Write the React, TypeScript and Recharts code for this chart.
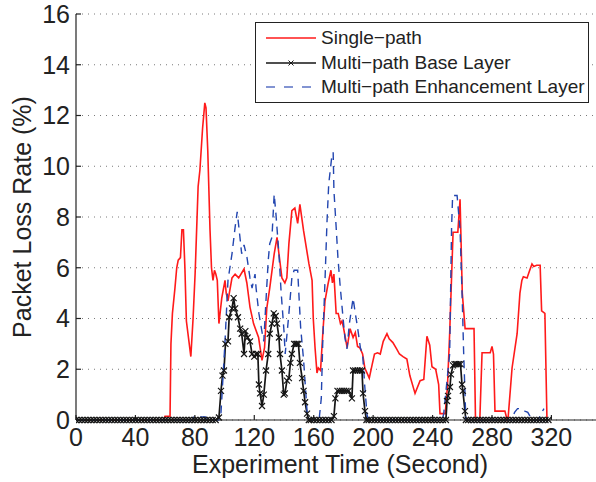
import React from 'react'
import { LineChart, Line, XAxis, YAxis, CartesianGrid } from 'recharts'

const FONT = '"Liberation Sans", Arial, Helvetica, sans-serif'
const INK = '#222'

const xTicks = [0, 40, 80, 120, 160, 200, 240, 280, 320]
const yTicks = [0, 2, 4, 6, 8, 10, 12, 14, 16]

// [time (s), loss rate (%)]
const singlePath: [number, number][] = [
  [0, 0], [58.9, 0], [59.9, 0.15], [63.3, 0.15], [63.9, 3.0], [64.9, 4.2], [66.6, 5.2], [67.8, 6.0],
  [68.8, 6.3], [70.3, 6.4], [71.3, 7.5], [72.3, 7.5], [73.3, 6.0], [74.3, 3.9], [77.3, 2.5], [78.8, 4.0],
  [80.2, 5.8], [82.2, 9.2], [83.4, 9.85], [85.2, 11.5], [86.7, 12.5], [87.5, 12.3], [88.7, 10.6], [90.2, 7.5],
  [91.2, 6.0], [92.2, 5.5], [93.2, 5.9], [94.1, 5.75], [95.1, 5.5], [96.2, 3.8], [98.1, 4.8], [100.3, 5.5],
  [101.1, 5.0], [102.3, 4.7], [105.0, 5.6], [107.1, 5.75], [109.5, 5.6], [113.1, 5.95], [115.0, 5.4],
  [117.1, 4.45], [119.5, 3.8], [122.9, 3.25], [125.2, 2.35], [126.9, 2.85], [128.4, 4.4], [130.4, 5.2],
  [133.4, 6.55], [135.3, 7.2], [136.6, 6.55], [138.6, 5.6], [140.6, 5.4], [141.9, 5.6], [143.3, 6.95],
  [145.3, 8.25], [147.3, 8.35], [149.2, 7.75], [150.7, 8.5], [153.2, 7.45], [156.8, 6.15], [158.9, 5.5],
  [159.7, 4.0], [160.9, 2.85], [162.2, 1.85], [163.1, 2.05], [164.6, 1.95], [166.1, 3.4], [167.6, 4.7],
  [169.6, 5.35], [171.6, 5.9], [172.6, 5.4], [173.6, 5.75], [175.1, 4.2], [176.5, 4.2], [178.0, 3.8],
  [179.0, 3.9], [180.0, 3.65], [182.5, 2.85], [184.5, 3.6], [186.5, 3.25], [188.0, 3.45], [189.5, 2.9],
  [191.0, 2.85], [192.9, 2.6], [194.4, 2.05], [197.4, 1.65], [199.4, 2.2], [200.9, 2.6], [202.9, 2.65],
  [204.8, 2.6], [206.8, 3.1], [209.3, 3.4], [210.8, 3.2], [213.3, 3.05], [215.8, 2.8], [217.7, 2.6],
  [220.1, 2.5], [222.7, 2.4], [224.7, 1.75], [228.2, 1.05], [231.6, 1.55], [234.1, 1.6], [236.2, 3.3],
  [238.1, 2.95], [239.6, 2.1], [242.1, 2.0], [244.1, 1.4], [245.0, 0.25], [248.5, 0.25], [250.0, 1.3],
  [251.5, 3.4], [253.0, 6.0], [253.8, 7.4], [257.0, 7.4], [258.5, 8.7], [260.0, 5.0], [261.9, 3.6],
  [267.9, 3.6], [268.9, 0], [271.8, 0], [273.3, 2.65], [278.8, 2.65], [280.0, 2.9], [281.0, 2.6],
  [282.0, 0.35], [288.7, 0.35], [290.2, 0], [290.8, 0.05], [293.5, 2.05], [296.9, 3.4], [298.8, 5.0],
  [300.1, 5.5], [301.1, 5.65], [303.6, 5.6], [305.1, 5.85], [306.9, 6.15], [308.1, 6.05], [310.1, 6.1],
  [312.4, 6.1], [313.4, 4.3], [315.6, 4.2], [317.0, 0],
]

const baseLayer: [number, number][] = [
  [0, 0], [2, 0], [4, 0], [6, 0], [8, 0], [10, 0], [12, 0], [14, 0], [16, 0], [18, 0], [20, 0], [22, 0],
  [24, 0], [26, 0], [28, 0], [30, 0], [32, 0], [34, 0], [36, 0], [38, 0], [40, 0], [42, 0], [44, 0],
  [46, 0], [48, 0], [50, 0], [52, 0], [54, 0], [56, 0], [58, 0], [60, 0], [62, 0], [64, 0], [66, 0],
  [68, 0], [70, 0], [72, 0], [74, 0], [76, 0], [78, 0], [80, 0], [82, 0], [84, 0], [86, 0], [88, 0],
  [90, 0], [92, 0], [94, 0],
  [96.2, 0.1], [97.6, 1.15], [98.6, 1.75], [99.6, 1.95], [100.6, 3.0], [102.3, 3.1], [103.1, 4.05],
  [105.0, 4.4], [106.1, 4.8], [107.1, 4.4], [109.0, 4.05], [110.5, 3.6], [111.5, 3.4], [113.1, 2.6],
  [114.0, 3.5], [115.5, 3.25], [117.1, 3.1], [118.5, 2.6], [120.0, 2.5], [121.2, 2.6], [122.4, 2.6],
  [123.1, 1.4], [123.9, 1.05], [125.2, 0.55], [126.4, 1.0], [127.9, 1.95], [129.4, 2.6], [130.4, 3.4],
  [131.9, 3.8], [133.1, 4.2], [134.4, 4.1], [135.3, 3.8], [136.6, 3.25], [137.3, 2.6], [138.6, 1.95],
  [139.8, 1.0], [140.6, 1.05], [142.0, 1.55], [143.3, 1.65], [144.3, 2.25], [145.3, 2.6], [146.8, 3.0],
  [147.8, 3.0], [148.7, 3.0], [149.7, 3.0], [150.7, 2.25], [152.2, 1.65], [153.2, 1.15], [154.2, 0.7],
  [155.5, 0.25], [156.7, 0],
  [158, 0], [160, 0], [162, 0], [164, 0], [166, 0], [168, 0], [170, 0], [172, 0],
  [173.6, 0.15], [174.6, 0.85], [176.0, 1.15], [177.5, 1.15], [179.0, 1.15], [180.5, 1.15], [182.0, 1.15],
  [183.5, 1.15], [185.7, 0.85], [186.5, 1.95], [188.0, 1.95], [189.5, 1.95], [191.0, 1.95], [192.5, 1.95],
  [193.2, 1.05], [194.5, 0.35], [195.5, 0],
  [197, 0], [199, 0], [201, 0], [203, 0], [205, 0], [207, 0], [209, 0], [211, 0], [213, 0], [215, 0],
  [217, 0], [219, 0], [221, 0], [223, 0], [225, 0], [227, 0], [229, 0], [231, 0], [233, 0], [235, 0],
  [237, 0], [239, 0], [241, 0], [243, 0], [245, 0], [247, 0], [249, 0],
  [249.7, 0.75], [250.4, 0.95], [251.7, 1.3], [252.4, 1.8], [253.8, 2.15], [254.8, 2.2], [255.8, 2.2],
  [256.8, 2.2], [257.8, 2.2], [258.8, 2.2], [259.8, 1.4], [260.4, 1.15], [261.8, 0.35], [262.4, 0],
  [264, 0], [266, 0], [268, 0], [270, 0], [272, 0], [274, 0], [276, 0], [278, 0], [280, 0], [282, 0],
  [284, 0], [286, 0], [288, 0], [290, 0], [292, 0], [294, 0], [296, 0], [298, 0], [300, 0], [302, 0],
  [304, 0], [306, 0], [308, 0], [310, 0], [312, 0], [314, 0], [316, 0], [318, 0],
]

const enhancementLayer: [number, number][] = [
  [0, 0], [78.3, 0], [79.4, 0.12], [87.3, 0.12], [87.8, 0], [96.2, 0], [97.6, 0.3], [100.3, 3.1],
  [102.3, 5.5], [105.0, 6.55], [107.1, 7.6], [108.5, 8.2], [109.9, 7.45], [111.5, 6.55], [113.1, 6.9],
  [115.1, 6.4], [117.1, 5.6], [118.5, 5.2], [120.5, 5.75], [121.2, 5.2], [123.1, 4.2], [125.4, 3.4],
  [126.4, 3.1], [127.4, 4.2], [129.4, 6.3], [130.4, 6.95], [131.9, 7.2], [133.4, 8.9], [134.6, 8.1],
  [136.6, 6.55], [138.0, 5.1], [140.0, 3.5], [140.8, 2.6], [143.3, 4.2], [145.3, 5.6], [146.8, 5.9],
  [149.2, 5.9], [149.9, 5.1], [151.2, 3.65], [153.2, 2.35], [155.5, 0.35], [156.8, 0], [163.6, 0],
  [165.1, 0.85], [166.1, 3.1], [167.6, 5.5], [168.9, 7.75], [170.1, 9.3], [172.1, 10.35], [173.1, 10.55],
  [173.6, 9.05], [175.1, 7.6], [176.3, 6.4], [177.7, 5.35], [179.7, 4.05], [181.0, 3.25], [182.4, 2.8],
  [184.0, 3.8], [186.5, 4.8], [188.0, 4.2], [189.5, 3.65], [191.4, 2.85], [192.9, 2.6], [194.4, 1.3],
  [195.9, 0.2], [196.9, 0], [246.5, 0], [247.5, 0.25], [251.5, 2.6], [252.8, 7.6], [253.5, 8.85],
  [256.5, 8.85], [258.5, 7.5], [260.0, 4.7], [260.9, 2.7], [262.4, 0], [293.2, 0], [295.2, 0.3],
  [297.2, 0.45], [299.2, 0.45], [302.1, 0.35], [304.1, 0.3], [306.1, 0.1], [308.1, 0], [311.1, 0],
  [314.0, 0.35], [315.0, 0.45],
]

const toRows = (pts: [number, number][]) => pts.map(([t, v]) => ({ t, v }))

const RED = '#ff1a1a'
const BLACK = '#151515'
const BLUE = '#2346b0'

const XMark = (props: any) => {
  const { cx, cy, index } = props
  if (cx == null || cy == null) return null
  const s = 3
  return (
    <path
      key={`m${index}`}
      d={`M${cx - s},${cy - s}L${cx + s},${cy + s}M${cx - s},${cy + s}L${cx + s},${cy - s}`}
      stroke={BLACK}
      strokeWidth={1.2}
      fill="none"
    />
  )
}

function LegendBox() {
  const rows = [
    { label: 'Single−path', kind: 'red' },
    { label: 'Multi−path Base Layer', kind: 'black' },
    { label: 'Multi−path Enhancement Layer', kind: 'blue' },
  ]
  return (
    <div
      style={{
        position: 'absolute', left: 255, top: 22, width: 334, height: 81,
        boxSizing: 'border-box', border: `1px solid ${INK}`, background: '#fff',
        fontFamily: FONT, fontSize: 19, color: INK,
      }}
    >
      {rows.map((r, i) => (
        <div key={r.label} style={{ position: 'absolute', left: 0, top: 3 + i * 24.5, height: 24, width: '100%' }}>
          <svg width={62} height={24} style={{ position: 'absolute', left: 8, top: 0 }}>
            {r.kind === 'red' && <line x1={2} y1={12} x2={52} y2={12} stroke={RED} strokeWidth={1.6} />}
            {r.kind === 'black' && (
              <g>
                <line x1={2} y1={12} x2={52} y2={12} stroke={BLACK} strokeWidth={1.4} />
                <path d="M24.5,9.5L29.5,14.5M24.5,14.5L29.5,9.5" stroke={BLACK} strokeWidth={1} />
              </g>
            )}
            {r.kind === 'blue' && (
              <line x1={2} y1={12} x2={52} y2={12} stroke="#5a72c4" strokeWidth={1.4} strokeDasharray="9 9" />
            )}
          </svg>
          <span style={{ position: 'absolute', left: 65, top: 0, lineHeight: '24px', whiteSpace: 'nowrap' }}>{r.label}</span>
        </div>
      ))}
    </div>
  )
}

export default function App() {
  const tickStyle = { fill: INK, fontSize: 25, fontFamily: FONT }
  const axisStroke = { stroke: INK, strokeWidth: 1.2 }
  return (
    <div style={{ position: 'absolute', left: 0, top: 0, width: 596, height: 482, background: '#fff', overflow: 'hidden' }}>
      <LineChart width={596} height={482} margin={{ top: 14, right: 0, bottom: 0, left: 0 }}>
        <CartesianGrid vertical={false} stroke="#7a7a7a" strokeDasharray="1 5" />
        <XAxis
          dataKey="t"
          type="number"
          domain={[0, 350]}
          allowDataOverflow
          ticks={xTicks}
          interval={0}
          height={62}
          tick={tickStyle}
          tickSize={-5}
          tickMargin={13}
          axisLine={axisStroke}
          tickLine={axisStroke}
          label={{
            content: () => (
              <text x={340} y={473} textAnchor="middle" fill={INK} fontSize={25} fontFamily={FONT}>
                Experiment Time (Second)
              </text>
            ),
          }}
        />
        <XAxis
          xAxisId="top"
          orientation="top"
          dataKey="t"
          type="number"
          domain={[0, 350]}
          allowDataOverflow
          ticks={xTicks}
          interval={0}
          height={0}
          tick={false}
          tickSize={-5}
          axisLine={axisStroke}
          tickLine={axisStroke}
        />
        <YAxis
          type="number"
          domain={[0, 16]}
          ticks={yTicks}
          interval={0}
          width={76}
          tick={tickStyle}
          tickSize={-5}
          tickMargin={11}
          axisLine={axisStroke}
          tickLine={axisStroke}
          label={{
            content: () => (
              <text
                x={31}
                y={217}
                transform="rotate(-90 31 217)"
                textAnchor="middle"
                fill={INK}
                fontSize={25}
                fontFamily={FONT}
              >
                Packet Loss Rate (%)
              </text>
            ),
          }}
        />
        <YAxis
          yAxisId="right"
          orientation="right"
          type="number"
          domain={[0, 16]}
          ticks={yTicks}
          interval={0}
          width={0}
          tick={false}
          tickSize={-5}
          axisLine={axisStroke}
          tickLine={axisStroke}
        />
        <Line
          data={toRows(singlePath)}
          dataKey="v"
          type="linear"
          stroke={RED}
          strokeWidth={1.6}
          dot={false}
          activeDot={false}
          isAnimationActive={false}
        />
        <Line
          data={toRows(baseLayer)}
          dataKey="v"
          type="linear"
          stroke={BLACK}
          strokeWidth={1.7}
          dot={XMark}
          activeDot={false}
          isAnimationActive={false}
        />
        <Line
          data={toRows(enhancementLayer)}
          dataKey="v"
          type="linear"
          stroke={BLUE}
          strokeWidth={1.4}
          strokeDasharray="8 6"
          dot={false}
          activeDot={false}
          isAnimationActive={false}
        />
      </LineChart>
      <LegendBox />
    </div>
  )
}
